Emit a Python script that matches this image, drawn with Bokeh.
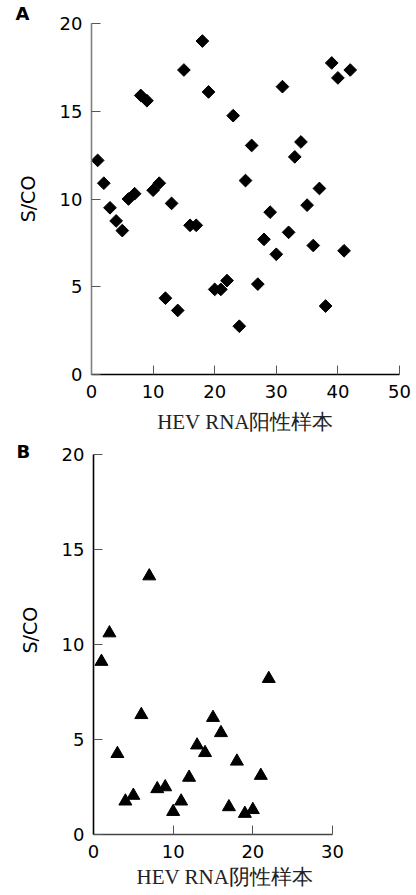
import numpy as np
from bokeh.plotting import figure
from bokeh.models import Range1d, Title, FixedTicker, ColumnDataSource
from bokeh.embed import file_html
from bokeh.resources import INLINE

# Panel A: HEV RNA positive samples
a_x = list(range(1, 43))
a_y = [12.2, 10.9, 9.5, 8.75, 8.2, 10.0, 10.3, 15.9, 15.6, 10.5,
       10.9, 4.35, 9.75, 3.65, 17.35, 8.5, 8.5, 19.0, 16.1, 4.85,
       4.85, 5.35, 14.75, 2.75, 11.05, 13.05, 5.15, 7.7, 9.25, 6.85,
       16.4, 8.1, 12.4, 13.25, 9.65, 7.35, 10.6, 3.9, 17.75, 16.9,
       7.05, 17.35]

# Panel B: HEV RNA negative samples
b_x = list(range(1, 23))
b_y = [9.1, 10.6, 4.25, 1.75, 2.05, 6.3, 13.6, 2.4, 2.5, 1.2,
       1.75, 3.0, 4.7, 4.3, 6.15, 5.35, 1.45, 3.85, 1.1, 1.3,
       3.1, 8.2]

a_xticks = [0, 10, 20, 30, 40, 50]
b_xticks = [0, 10, 20, 30]
yticks = [0, 5, 10, 15, 20]

XLAB_A = "HEV RNA阳性样本"
XLAB_B = "HEV RNA阴性样本"
YLAB = "S/CO"

TICK_FONT = "DejaVu Sans"
SERIF = "Liberation Serif"


def style(p, xticks, ycol, xcol):
    p.xgrid.visible = False
    p.ygrid.visible = False
    p.outline_line_color = None
    for ax, col in ((p.xaxis, xcol), (p.yaxis, ycol)):
        ax.axis_line_color = col
        ax.axis_line_width = 1.6
        ax.major_tick_line_color = "#555555"
        ax.major_tick_line_width = 1
        ax.major_tick_in = 9
        ax.major_tick_out = 0
        ax.minor_tick_line_color = None
        ax.major_label_text_font = TICK_FONT
        ax.major_label_text_font_size = "18px"
        ax.major_label_text_color = "black"
    p.xaxis.ticker = FixedTicker(ticks=xticks)
    p.yaxis.ticker = FixedTicker(ticks=yticks)
    p.xaxis.major_label_standoff = 10
    p.yaxis.major_label_standoff = 9


def letter(p, txt, offset, standoff):
    t = Title(text=txt, align="left", offset=offset, text_font=TICK_FONT,
              text_font_style="bold", text_font_size="18px",
              text_color="black", vertical_align="bottom")
    try:
        t.standoff = standoff
    except Exception:
        t.standoff = 0
    p.add_layout(t, "above")


# ---------- Panel A ----------
pA = figure(width=416, height=440, x_range=Range1d(0, 50), y_range=Range1d(0, 20),
            output_backend="svg", toolbar_location=None,
            min_border_left=91, min_border_right=17, min_border_top=21, min_border_bottom=66)
style(pA, a_xticks, "#808080", "black")
pA.xaxis.axis_label = XLAB_A
pA.xaxis.axis_label_text_font = SERIF
pA.xaxis.axis_label_text_font_style = "normal"
pA.xaxis.axis_label_text_font_size = "21px"
pA.xaxis.axis_label_text_color = "#222222"
pA.xaxis.axis_label_standoff = 9
pA.yaxis.axis_label = YLAB
pA.yaxis.axis_label_text_font = TICK_FONT
pA.yaxis.axis_label_text_font_style = "normal"
pA.yaxis.axis_label_text_font_size = "19px"
pA.yaxis.axis_label_text_color = "black"
pA.yaxis.axis_label_standoff = 18

srcA = ColumnDataSource(dict(x=a_x, y=a_y))
pA.scatter("x", "y", source=srcA, marker="square", angle=np.pi / 4, size=9,
           fill_color="black", line_color="black")
letter(pA, "A", -76, 0)

# ---------- Panel B ----------
pB = figure(width=416, height=455, x_range=Range1d(0, 30), y_range=Range1d(0, 20),
            output_backend="svg", toolbar_location=None,
            min_border_left=92, min_border_right=84, min_border_top=14, min_border_bottom=61)
style(pB, b_xticks, "black", "#444444")
srcB = ColumnDataSource(dict(x=b_x, y=b_y))
pB.scatter("x", "y", source=srcB, marker="triangle", size=13,
           fill_color="black", line_color="black")
letter(pB, "B", -77, -14)
pB.add_layout(Title(text=XLAB_B, align="left", offset=43, text_font=SERIF,
                    text_font_style="normal", text_font_size="21px",
                    text_color="#222222", standoff=8, vertical_align="top"), "below")
pB.add_layout(Title(text=YLAB, align="left", offset=181, text_font=TICK_FONT,
                    text_font_style="normal", text_font_size="19px",
                    text_color="black", standoff=34, vertical_align="middle"), "left")

open("out.html", "w").write(file_html([pA, pB], INLINE))
